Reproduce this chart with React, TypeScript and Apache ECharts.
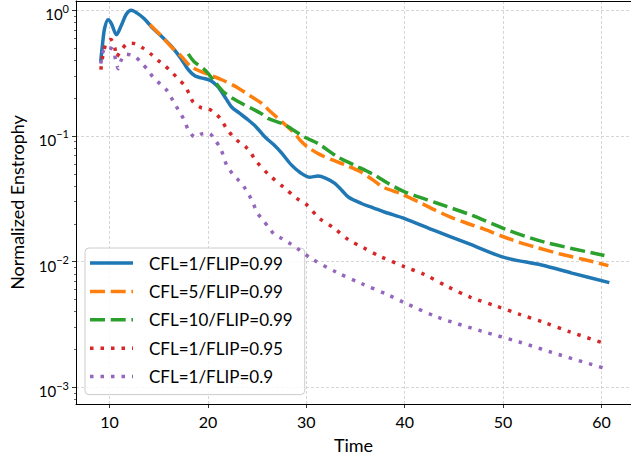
import React, { useEffect, useRef } from "react";
import * as echarts from "echarts";

const FONT = "Lato, 'Noto Sans', sans-serif";

const X_MIN = 6.59;
const X_MAX = 63.0;
const Y_MIN = 0.000736;
const Y_MAX = 1.186;

const SERIES_NAMES = [
  "CFL=1/FLIP=0.99",
  "CFL=5/FLIP=0.99",
  "CFL=10/FLIP=0.99",
  "CFL=1/FLIP=0.95",
  "CFL=1/FLIP=0.9",
];
const COLORS = ["#1f77b4", "#ff7f0e", "#2ca02c", "#d62728", "#9467bd"];

// CFL=1/FLIP=0.99
const T1 = [9.1, 9.3, 9.5, 9.85, 10.2, 10.7, 11.2, 11.7, 12.2, 12.8, 13.5, 14.4, 15.3, 16.3, 17.2, 18.0, 18.7, 19.3, 20.1, 20.6, 21.1, 21.8, 22.4, 23.2, 24.1, 24.9, 25.8, 26.7, 27.5, 28.5, 29.4, 30.3, 31.2, 32.0, 32.9, 33.6, 34.3, 35.6, 36.8, 38.0, 40.0, 43.0, 46.5, 50.1, 53.9, 57.0, 60.8];
const V1 = [0.39, 0.55, 0.72, 0.84, 0.78, 0.64, 0.76, 0.93, 1.0, 0.95, 0.86, 0.72, 0.62, 0.515, 0.42, 0.337, 0.3, 0.29, 0.28, 0.265, 0.242, 0.2, 0.17, 0.152, 0.134, 0.118, 0.098, 0.085, 0.073, 0.0586, 0.051, 0.047, 0.048, 0.046, 0.042, 0.037, 0.0325, 0.029, 0.0268, 0.0247, 0.022, 0.0177, 0.0139, 0.0108, 0.0094, 0.0081, 0.0068];

// CFL=5/FLIP=0.99
const T2 = [14.1, 15.3, 16.3, 17.3, 18.3, 19.7, 21.4, 23.1, 24.4, 25.4, 26.4, 27.7, 28.7, 29.4, 30.1, 31.4, 32.8, 34.1, 35.5, 36.8, 37.8, 39.6, 41.3, 43.0, 44.6, 46.4, 48.0, 50.1, 51.8, 53.5, 55.8, 58.2, 60.7];
const V2 = [0.77, 0.62, 0.51, 0.43, 0.355, 0.316, 0.28, 0.24, 0.206, 0.183, 0.155, 0.126, 0.107, 0.092, 0.082, 0.071, 0.0638, 0.0582, 0.052, 0.0445, 0.0392, 0.0347, 0.0302, 0.0259, 0.0227, 0.0201, 0.0182, 0.0157, 0.0141, 0.0129, 0.0115, 0.0104, 0.0093];

// CFL=10/FLIP=0.99
const T3 = [18.0, 18.6, 19.7, 20.7, 21.7, 23.4, 24.4, 25.4, 26.1, 27.8, 29.8, 31.2, 33.2, 34.8, 36.9, 38.3, 40.0, 43.4, 46.8, 50.5, 54.2, 60.3];
const V3 = [0.45, 0.39, 0.335, 0.27, 0.22, 0.182, 0.166, 0.151, 0.138, 0.123, 0.098, 0.087, 0.068, 0.059, 0.049, 0.042, 0.0359, 0.029, 0.0234, 0.0178, 0.0143, 0.0112];

// CFL=1/FLIP=0.95
const T4 = [9.12, 9.26, 9.46, 9.7, 10.13, 10.54, 10.7, 11.2, 11.9, 12.6, 13.4, 14.2, 14.9, 15.6, 16.3, 17.0, 17.7, 18.1, 18.5, 19.3, 20.0, 20.8, 21.4, 21.9, 22.5, 23.2, 23.9, 24.4, 24.9, 26.2, 27.7, 29.1, 29.95, 31.3, 32.8, 34.3, 35.8, 37.5, 40.0, 42.0, 44.4, 46.7, 49.4, 51.7, 54.1, 56.8, 60.2];
const V4 = [0.337, 0.41, 0.49, 0.553, 0.585, 0.5, 0.426, 0.483, 0.547, 0.543, 0.5, 0.449, 0.402, 0.363, 0.324, 0.283, 0.249, 0.215, 0.186, 0.168, 0.165, 0.15, 0.133, 0.114, 0.1, 0.089, 0.081, 0.0724, 0.063, 0.049, 0.039, 0.0316, 0.0288, 0.0222, 0.0185, 0.0149, 0.0129, 0.011, 0.0091, 0.0079, 0.0063, 0.0052, 0.0044, 0.0038, 0.0033, 0.00276, 0.00225];

// CFL=1/FLIP=0.9
const T5 = [9.12, 9.26, 9.7, 10.4, 10.6, 10.9, 11.15, 11.7, 12.6, 13.3, 13.9, 14.4, 15.1, 15.8, 16.3, 16.8, 17.3, 17.7, 18.0, 18.7, 19.4, 20.1, 20.7, 21.3, 21.9, 22.5, 23.1, 23.7, 24.2, 24.6, 25.0, 25.5, 26.2, 26.7, 27.5, 28.3, 29.1, 30.5, 33.1, 35.6, 38.4, 40.0, 43.4, 47.8, 51.6, 54.9, 60.5];
const V5 = [0.377, 0.452, 0.51, 0.483, 0.407, 0.343, 0.396, 0.447, 0.427, 0.377, 0.335, 0.295, 0.261, 0.232, 0.2, 0.171, 0.147, 0.128, 0.112, 0.098, 0.104, 0.105, 0.093, 0.079, 0.0586, 0.05, 0.0445, 0.039, 0.0337, 0.029, 0.0247, 0.0218, 0.0187, 0.0166, 0.0153, 0.014, 0.0127, 0.0106, 0.0082, 0.0067, 0.0054, 0.0047, 0.0036, 0.0028, 0.0023, 0.0019, 0.0014];

const TIMES = [T1, T2, T3, T4, T5];
const VALUES = [V1, V2, V3, V4, V5];
const DASHES: (number[] | null)[] = [null, [15, 5.7], [15, 5.7], [3.5, 7], [3.5, 7]];

const MINOR_Y = [0.0008, 0.0009, 0.002, 0.003, 0.004, 0.005, 0.006, 0.007, 0.008, 0.009, 0.02, 0.03, 0.04, 0.05, 0.06, 0.07, 0.08, 0.09, 0.2, 0.3, 0.4, 0.5, 0.6, 0.7, 0.8, 0.9];

// legend handle: a 43px line sample inside a 54x18 icon box (leaves a gap before the text)
const HANDLE_LEN = 43;
const ICON_W = 54;
const ICON_H = 18;
const HANDLE_W = 3.5;

function legendIcon(dash: number[] | null): string {
  const y0 = ICON_H / 2 - HANDLE_W / 2;
  let d = "M0 0h0.01v0.01h-0.01z M" + (ICON_W - 0.01) + " " + (ICON_H - 0.01) + "h0.01v0.01h-0.01z";
  if (!dash) {
    d += " M0 " + y0 + "h" + HANDLE_LEN + "v" + HANDLE_W + "h-" + HANDLE_LEN + "z";
  } else {
    let x = 0;
    while (x < HANDLE_LEN - 0.2) {
      const w = Math.min(dash[0], HANDLE_LEN - x);
      d += " M" + x.toFixed(2) + " " + y0 + "h" + w.toFixed(2) + "v" + HANDLE_W + "h-" + w.toFixed(2) + "z";
      x += dash[0] + dash[1];
    }
  }
  return "path://" + d;
}

function supLabel(value: number) {
  const e = Math.round(Math.log10(value));
  const s = e < 0 ? "\u2212" + -e : String(e);
  return "{b|10}{s|" + s + "}";
}

export default function App() {
  const ref = useRef<HTMLDivElement>(null);
  useEffect(() => {
    document.body.style.margin = "0";
    const chart = echarts.init(ref.current!, null, { renderer: "svg" });
    const gridLine = { show: true, lineStyle: { color: "#cbcbcb", width: 0.8, type: [3, 2] } };
    const series = SERIES_NAMES.map((name, i) => ({
      name,
      type: "line",
      data: TIMES[i].map((t, j) => [t, VALUES[i][j]]),
      showSymbol: false,
      symbol: "none",
      smooth: 0.3,
      xAxisIndex: 0,
      yAxisIndex: 0,
      lineStyle: { color: COLORS[i], width: HANDLE_W, type: DASHES[i] ? DASHES[i] : "solid", cap: "butt" },
      itemStyle: { color: COLORS[i] },
      z: 2 + i,
    }));
    chart.setOption({
      animation: false,
      textStyle: { fontFamily: FONT },
      grid: { left: 74, right: 0, top: 1, bottom: 55, containLabel: false },
      xAxis: [
        {
          type: "value",
          min: X_MIN,
          max: X_MAX,
          name: "Time",
          nameLocation: "middle",
          nameGap: 32,
          nameTextStyle: { fontSize: 18, color: "#000", fontFamily: FONT },
          axisLine: { show: true, onZero: false, lineStyle: { color: "#000", width: 1 } },
          axisTick: { show: true, length: 4, lineStyle: { color: "#000", width: 0.8 } },
          axisLabel: { fontSize: 16, color: "#000", margin: 9, showMinLabel: false, showMaxLabel: false, fontFamily: FONT },
          splitLine: gridLine,
        },
        {
          type: "value",
          position: "top",
          min: X_MIN,
          max: X_MAX,
          axisLine: { show: true, lineStyle: { color: "#000", width: 1 } },
          axisTick: { show: false },
          axisLabel: { show: false },
          splitLine: { show: false },
        },
      ],
      yAxis: [
        {
          type: "log",
          logBase: 10,
          min: Y_MIN,
          max: Y_MAX,
          name: "Normalized Enstrophy",
          nameLocation: "middle",
          nameGap: 50,
          nameTextStyle: { fontSize: 18, color: "#000", fontFamily: FONT },
          axisLine: { show: true, onZero: false, lineStyle: { color: "#000", width: 1 } },
          axisTick: { show: true, length: 4, lineStyle: { color: "#000", width: 0.8 } },
          axisLabel: {
            color: "#000",
            margin: 7,
            showMinLabel: false,
            showMaxLabel: false,
            formatter: supLabel,
            rich: {
              b: { fontSize: 15, lineHeight: 15, padding: [4, 0, 0, 0], color: "#000", fontFamily: FONT, verticalAlign: "top" },
              s: { fontSize: 11, lineHeight: 11, color: "#000", fontFamily: FONT, verticalAlign: "top" },
            },
          },
          splitLine: gridLine,
        },
        {
          type: "log",
          logBase: 10,
          min: Y_MIN,
          max: Y_MAX,
          position: "left",
          axisLine: { show: false },
          axisLabel: { show: false },
          splitLine: { show: false },
          axisTick: { show: true, length: 2, customValues: MINOR_Y, lineStyle: { color: "#000", width: 0.6 } },
        },
      ],
      legend: {
        orient: "vertical",
        left: 85,
        top: 248,
        itemWidth: ICON_W,
        itemHeight: ICON_H,
        itemGap: 10.4,
        padding: [6, 12, 9, 5],
        backgroundColor: "rgba(255,255,255,0.85)",
        borderColor: "#cccccc",
        borderWidth: 1,
        borderRadius: 4,
        symbolKeepAspect: false,
        itemStyle: { borderWidth: 0 },
        textStyle: { fontSize: 17, color: "#000", lineHeight: 18, fontFamily: FONT },
        data: SERIES_NAMES.map((name, i) => ({ name, icon: legendIcon(DASHES[i]) })),
      },
      series,
    });
    return () => chart.dispose();
  }, []);
  return <div ref={ref} style={{ width: 631, height: 459 }} />;
}
